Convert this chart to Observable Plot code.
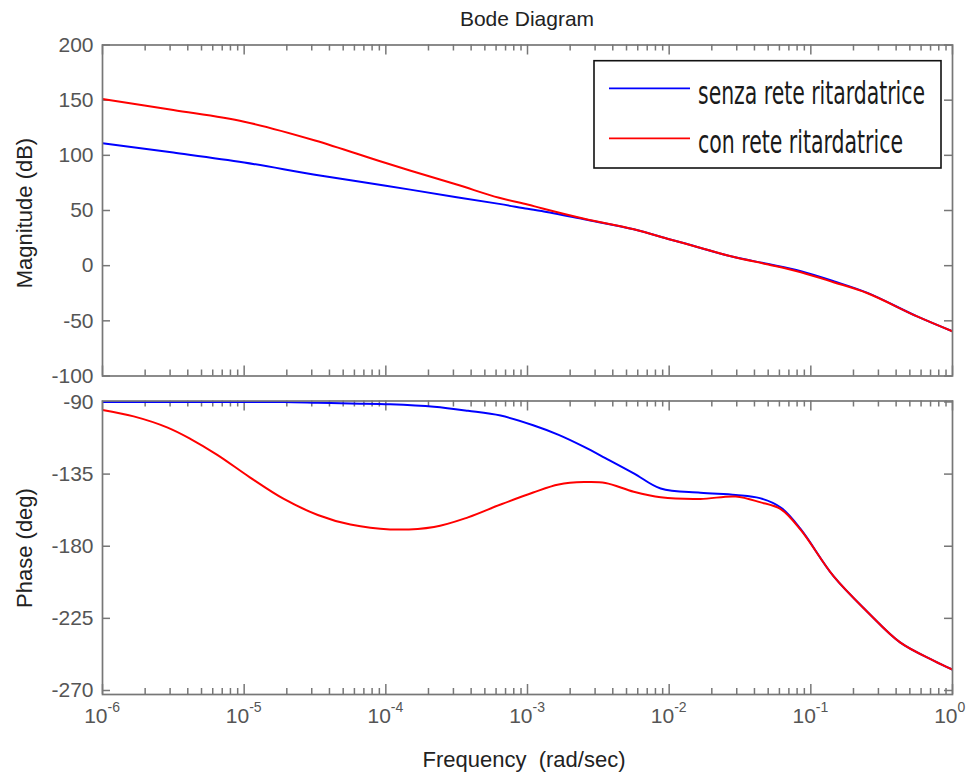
<!DOCTYPE html>
<html><head><meta charset="utf-8">
<script src="https://cdn.jsdelivr.net/npm/d3@7"></script>
<script src="https://cdn.jsdelivr.net/npm/@observablehq/plot@0.6"></script>
<style>
body{margin:0;background:#fff}
#root{position:relative;width:970px;height:775px;overflow:hidden;font-family:"Liberation Sans",Arial,sans-serif;background:#fff}
.abs{position:absolute}
</style></head>
<body><div id="root"></div>
<script>
// ---- data ----
const titleText = "Bode Diagram";
const xLabelText = "Frequency  (rad/sec)";
const magLabelText = "Magnitude (dB)";
const phaseLabelText = "Phase (deg)";
const seriesNames = ["senza rete ritardatrice", "con rete ritardatrice"];
const seriesColors = ["#0000ff", "#ff0000"];

// frequency samples as log10(rad/sec)
const magExp   = [-6, -5.5, -5, -4.5, -4, -3.5, -3.2, -3, -2.9, -2.6, -2.25, -2, -1.9, -1.55, -1.3, -1.07, -0.84, -0.6, -0.25, 0];
const magBlue  = [111, 102.5, 93.5, 82.5, 72.5, 62, 56, 51.5, 49.5, 42, 33, 24, 20.5, 8, 1.5, -5, -14, -24.7, -46, -59.5];
const magRed   = [151, 141, 130.5, 113.5, 93, 73.5, 61.5, 55.5, 52, 42.5, 33, 24, 20.5, 8, 1, -6, -15, -25, -46, -59.5];

const phaseExp  = [-6, -5.78, -5.54, -5.38, -5.19, -4.96, -4.72, -4.48, -4.25, -3.97, -3.66, -3.42, -3.19, -2.96, -2.78, -2.6, -2.45, -2.25, -2.06, -1.78, -1.53, -1.36, -1.21, -1.07, -0.84, -0.6, -0.37, -0.13, 0];
const phaseBlue = [-90, -90, -90, -90, -90, -90, -90, -90.5, -91, -91.5, -93, -95.5, -98.5, -104.5, -110.5, -118, -125, -134.5, -144, -146.6, -148, -150, -156, -169.5, -198.7, -221, -240, -251.5, -257];
const phaseRed  = [-95, -99, -106, -113, -123, -137, -150.5, -160.5, -166.5, -169.5, -168, -162, -154, -146.5, -141.5, -140, -140.5, -146, -149.5, -150.5, -149, -152.5, -157, -170, -198.7, -221, -240, -251.5, -257];

const magTicks = [200, 150, 100, 50, 0, -50, -100];
const phaseTicks = [-90, -135, -180, -225, -270];
const decadeExp = [-6, -5, -4, -3, -2, -1, 0];

// ---- layout ----
const W = 970, L = 102, R = 18, PW = W - L - R;
const FONT = '"Liberation Sans", Arial, sans-serif';
const AX = "#777", TXT = "#555";
const root = document.getElementById("root");

const majorX = decadeExp.map(e => 10 ** e);
const minorX = decadeExp.slice(0, -1).flatMap(e => d3.range(2, 10).map(k => k * 10 ** e));

function panel({top, height, mt, mb, domain, yTicks, data, bottomLabels}) {
  const ph = height - mt - mb;
  const marks = [
    Plot.tickX(majorX, {x: d => d, stroke: AX, strokeWidth: 1.5, insetTop: ph - 10}),
    Plot.tickX(majorX, {x: d => d, stroke: AX, strokeWidth: 1.5, insetBottom: ph - 10}),
    Plot.tickX(minorX, {x: d => d, stroke: AX, strokeWidth: 1.5, insetTop: ph - 6}),
    Plot.tickX(minorX, {x: d => d, stroke: AX, strokeWidth: 1.5, insetBottom: ph - 6}),
    Plot.tickY(yTicks, {y: d => d, stroke: AX, strokeWidth: 1.5, insetRight: PW - 8}),
    Plot.tickY(yTicks, {y: d => d, stroke: AX, strokeWidth: 1.5, insetLeft: PW - 8}),
    Plot.line(data, {x: "f", y: "blue", stroke: seriesColors[0], strokeWidth: 2, curve: "catmull-rom", clip: true}),
    Plot.line(data, {x: "f", y: "red", stroke: seriesColors[1], strokeWidth: 2, curve: "catmull-rom", clip: true}),
    Plot.frame({stroke: AX, strokeWidth: 1.7}),
    Plot.axisY(yTicks, {tickSize: 0, tickPadding: 9, fontSize: 21, color: TXT, tickFormat: d => String(d), label: null})
  ];
  if (bottomLabels) {
    marks.push(
      Plot.text(decadeExp, {x: e => 10 ** e, text: () => "10", frameAnchor: "bottom", dy: 28.5, dx: 5, textAnchor: "end", fontSize: 21, fill: TXT}),
      Plot.text(decadeExp, {x: e => 10 ** e, text: e => String(e), frameAnchor: "bottom", dy: 17, dx: 5, textAnchor: "start", fontSize: 14, fill: TXT})
    );
  }
  const chart = Plot.plot({
    width: W, height,
    marginLeft: L, marginRight: R, marginTop: mt, marginBottom: mb,
    x: {type: "log", domain: [1e-6, 1], axis: null},
    y: {domain, axis: null},
    style: {fontFamily: FONT, background: "transparent", overflow: "visible"},
    marks
  });
  chart.classList.add("abs");
  chart.style.left = "0px";
  chart.style.top = top + "px";
  root.appendChild(chart);
}

const magData = magExp.map((e, i) => ({f: 10 ** e, blue: magBlue[i], red: magRed[i]}));
const phaseData = phaseExp.map((e, i) => ({f: 10 ** e, blue: phaseBlue[i], red: phaseRed[i]}));

panel({top: 0, height: 385, mt: 44.5, mb: 9.5, domain: [-100, 200], yTicks: magTicks, data: magData, bottomLabels: false});
panel({top: 385, height: 390, mt: 15.5, mb: 81, domain: [-272.5, -89.4], yTicks: phaseTicks, data: phaseData, bottomLabels: true});

// ---- texts ----
function addText(txt, {cx, cy, size, color, rotate}) {
  const d = document.createElement("div");
  d.className = "abs";
  d.textContent = txt;
  Object.assign(d.style, {
    left: (cx - 200) + "px", top: (cy - 15) + "px", width: "400px", height: "30px",
    lineHeight: "30px", textAlign: "center", fontSize: size + "px", color,
    whiteSpace: "pre", fontFamily: FONT,
    transform: rotate ? "rotate(-90deg)" : "none"
  });
  root.appendChild(d);
}
addText(titleText, {cx: L + PW / 2, cy: 19, size: 21, color: "#222"});
addText(xLabelText, {cx: 524, cy: 760, size: 22, color: "#222"});
addText(magLabelText, {cx: 25, cy: 213, size: 22, color: "#222", rotate: true});
addText(phaseLabelText, {cx: 25, cy: 548, size: 22, color: "#222", rotate: true});

// ---- legend ----
const ns = "http://www.w3.org/2000/svg";
const lg = document.createElementNS(ns, "svg");
lg.setAttribute("width", 360); lg.setAttribute("height", 112);
lg.setAttribute("class", "abs");
lg.style.left = "592px"; lg.style.top = "59px";
const rect = document.createElementNS(ns, "rect");
Object.entries({x: 2, y: 1.7, width: 347, height: 107.3, fill: "#fff", stroke: "#111", "stroke-width": 1.6}).forEach(([k, v]) => rect.setAttribute(k, v));
lg.appendChild(rect);
const rows = [{ly: 29.3, by: 44.5, len: 227}, {ly: 79.3, by: 94, len: 205}];
seriesNames.forEach((name, i) => {
  const ln = document.createElementNS(ns, "line");
  Object.entries({x1: 17, x2: 98, y1: rows[i].ly, y2: rows[i].ly, stroke: seriesColors[i], "stroke-width": 1.8}).forEach(([k, v]) => ln.setAttribute(k, v));
  lg.appendChild(ln);
  const t = document.createElementNS(ns, "text");
  Object.entries({x: 0, y: 0, fill: "#1a1a1a", "font-size": 25, "font-family": '"Liberation Sans Narrow", "DejaVu Sans Condensed", sans-serif', textLength: rows[i].len, lengthAdjust: "spacingAndGlyphs", transform: `translate(106,${rows[i].by}) scale(1,1.25)`}).forEach(([k, v]) => t.setAttribute(k, v));
  t.textContent = name;
  lg.appendChild(t);
});
root.appendChild(lg);
</script>
</body></html>
